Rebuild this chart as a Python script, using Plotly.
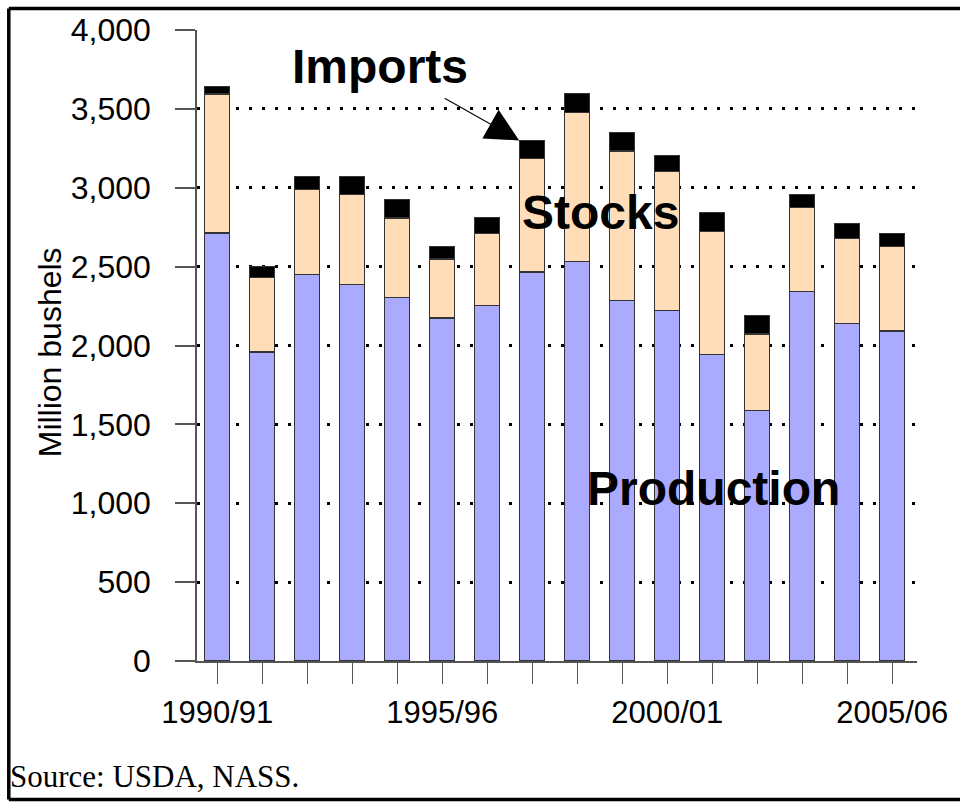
import plotly.graph_objects as go

years = ["1990/91", "1991/92", "1992/93", "1993/94", "1994/95", "1995/96", "1996/97", "1997/98",
         "1998/99", "1999/00", "2000/01", "2001/02", "2002/03", "2003/04", "2004/05", "2005/06"]
production = [2713, 1959, 2451, 2386, 2304, 2174, 2256, 2466, 2533, 2287, 2224, 1944, 1589, 2340, 2140, 2092]
stocks = [881, 473, 538, 570, 504, 374, 454, 718, 946, 946, 879, 780, 484, 534, 540, 538]
imports = [49, 67, 82, 115, 116, 82, 101, 116, 117, 115, 99, 118, 115, 82, 95, 82]
tick_labels = [y if y in ("1990/91", "1995/96", "2000/01", "2005/06") else "" for y in years]
y_ticks = [0, 500, 1000, 1500, 2000, 2500, 3000, 3500, 4000]
y_tick_text = [f"{v:,}" for v in y_ticks]

SANS = "Liberation Sans, Arial, sans-serif"
SERIF = "Liberation Serif, Times New Roman, serif"

fig = go.Figure()
fig.add_bar(x=years, y=production, name="Production",
            marker=dict(color="#AAAAFF", line=dict(color="#333333", width=1.2)))
fig.add_bar(x=years, y=stocks, name="Stocks",
            marker=dict(color="#FFDDB9", line=dict(color="#333333", width=1.2)))
fig.add_bar(x=years, y=imports, name="Imports",
            marker=dict(color="#000000", line=dict(color="#333333", width=1.2)))

top_1997 = production[7] + stocks[7] + imports[7]

frame = dict(color="black", width=3.5)
fx0, fx1, fy0, fy1 = -0.2614, 1.3, -0.2195, 1.0342

fig.update_layout(
    barmode="stack",
    bargap=0.45,
    width=960, height=803,
    margin=dict(l=197, r=38, t=27, b=142),
    paper_bgcolor="white", plot_bgcolor="white",
    showlegend=False,
    font=dict(family=SANS, color="black"),
    xaxis=dict(
        type="category",
        tickmode="array", tickvals=years, ticktext=tick_labels,
        range=[-0.45, 15.55],
        ticks="outside", ticklen=21, tickwidth=1, tickcolor="#555555",
        showline=True, linecolor="#555555", linewidth=1.5,
        showgrid=False,
        tickfont=dict(size=31, family=SANS),
        ticklabelstandoff=2,
    ),
    yaxis=dict(
        range=[0, 4000],
        tickmode="array", tickvals=y_ticks, ticktext=y_tick_text,
        ticks="outside", ticklen=20, tickwidth=1.5, tickcolor="#555555",
        showline=True, linecolor="#555555", linewidth=1.5,
        showgrid=True, gridcolor="black", gridwidth=3, griddash="3px,10px",
        zeroline=False,
        tickfont=dict(size=32, family=SANS),
        ticklabelstandoff=18,
    ),
    annotations=[
        dict(text="", x=6.71, y=top_1997, xref="x", yref="y", showarrow=True,
             ax=-76, ay=-43, arrowhead=2, arrowsize=6, arrowwidth=1.1, arrowcolor="black",
             standoff=0),
        dict(text="<b>Imports</b>", x=3.62, y=3771, xref="x", yref="y", showarrow=False,
             font=dict(size=48, family=SANS, color="black"), xanchor="center", yanchor="middle"),
        dict(text="<b>Stocks</b>", x=8.51, y=2844, xref="x", yref="y", showarrow=False,
             font=dict(size=48, family=SANS, color="black"), xanchor="center", yanchor="middle"),
        dict(text="<b>Production</b>", x=11.02, y=1094, xref="x", yref="y", showarrow=False,
             font=dict(size=48, family=SANS, color="black"), xanchor="center", yanchor="middle"),
        dict(text="Million bushels", x=-0.203, y=0.489, xref="paper", yref="paper", showarrow=False,
             textangle=-90, font=dict(size=32, family=SANS, color="black"),
             xanchor="center", yanchor="middle"),
        dict(text="Source: USDA, NASS.", x=-0.262, y=-0.183, xref="paper", yref="paper",
             showarrow=False, font=dict(size=31, family=SERIF, color="black"),
             xanchor="left", yanchor="middle"),
    ],
    shapes=[
        dict(type="line", xref="paper", yref="paper", x0=fx0, x1=fx0, y0=fy0, y1=fy1, line=frame),
        dict(type="line", xref="paper", yref="paper", x0=fx0, x1=fx1, y0=fy1, y1=fy1, line=frame),
        dict(type="line", xref="paper", yref="paper", x0=fx0, x1=fx1, y0=fy0, y1=fy0, line=frame),
    ],
)

fig.write_html("out.html", config={"displayModeBar": False},
               post_script="document.body.style.margin='0';")
